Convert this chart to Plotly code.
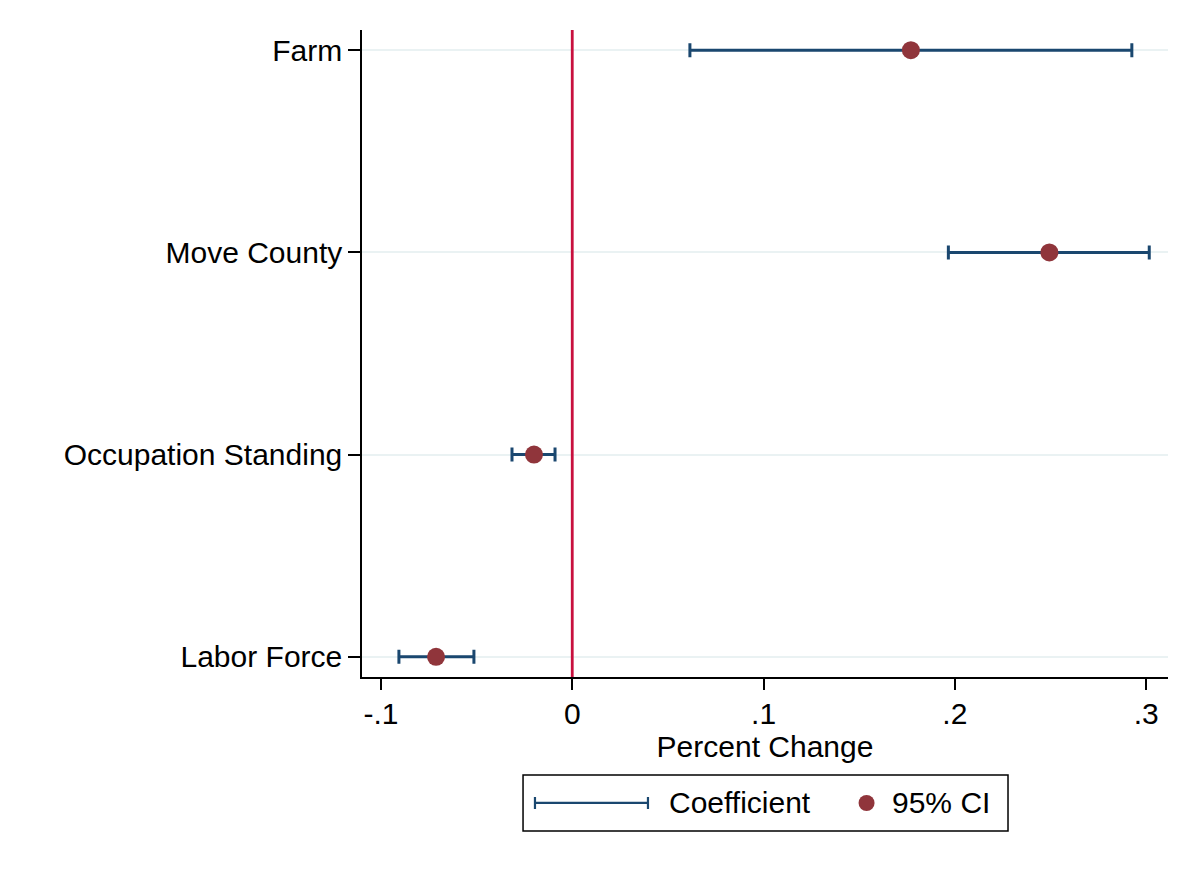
import plotly.graph_objects as go

categories = ["Labor Force", "Occupation Standing", "Move County", "Farm"]
coef = [-0.0712, -0.0200, 0.2494, 0.1770]
ci_low = [-0.0906, -0.0315, 0.1966, 0.0615]
ci_high = [-0.0514, -0.0090, 0.3016, 0.2925]
x_ticks = [-0.1, 0, 0.1, 0.2, 0.3]
x_tick_labels = ["-.1", "0", ".1", ".2", ".3"]

NAVY = "#1a476f"
MAROON = "#90353b"
RED = "#c8103e"
FONT = "Liberation Sans, Arial, Helvetica, sans-serif"

fig = go.Figure()
fig.add_trace(go.Scatter(
    x=coef, y=categories, mode="markers",
    marker=dict(size=1, opacity=0),
    error_x=dict(type="data", symmetric=False,
                 array=[h - c for h, c in zip(ci_high, coef)],
                 arrayminus=[c - l for c, l in zip(coef, ci_low)],
                 color=NAVY, thickness=3, width=7),
    showlegend=False, hoverinfo="skip"))
fig.add_trace(go.Scatter(
    x=coef, y=categories, mode="markers",
    marker=dict(size=18, color=MAROON),
    showlegend=False))

fig.add_vline(x=0, line=dict(color=RED, width=2.8), layer="above")

# manual legend
shapes = [
    dict(type="rect", xref="paper", yref="paper", x0=0.1998, x1=0.8015, y0=-0.238, y1=-0.1515,
         line=dict(color="black", width=1.5), fillcolor="white"),
    dict(type="line", xref="paper", yref="paper", x0=0.2146, x1=0.3548, y0=-0.1947, y1=-0.1947,
         line=dict(color=NAVY, width=2.2)),
    dict(type="line", xref="paper", yref="paper", x0=0.2146, x1=0.2146, y0=-0.1855, y1=-0.2040,
         line=dict(color=NAVY, width=2.2)),
    dict(type="line", xref="paper", yref="paper", x0=0.3548, x1=0.3548, y0=-0.1855, y1=-0.2040,
         line=dict(color=NAVY, width=2.2)),
    dict(type="circle", xref="paper", yref="paper", xsizemode="pixel", ysizemode="pixel",
         xanchor=0.626, yanchor=-0.1947, x0=-8, x1=8, y0=-8, y1=8,
         fillcolor=MAROON, line=dict(width=0)),
]
for s in shapes:
    fig.add_shape(**s)

fig.add_annotation(x=0.3784, y=-0.1947, xref="paper", yref="paper", text="Coefficient",
                   showarrow=False, xanchor="left", yanchor="middle",
                   font=dict(size=30, color="black", family=FONT))
fig.add_annotation(x=0.655, y=-0.1947, xref="paper", yref="paper", text="95% CI",
                   showarrow=False, xanchor="left", yanchor="middle",
                   font=dict(size=30, color="black", family=FONT))

fig.update_layout(
    width=1200, height=873,
    margin=dict(l=354, r=40, t=22, b=204),
    paper_bgcolor="white", plot_bgcolor="white",
    font=dict(family=FONT, size=30, color="black"),
    xaxis=dict(range=[-0.1099, 0.3114], tickvals=x_ticks, ticktext=x_tick_labels,
               showgrid=False, zeroline=False, showline=True, linecolor="black", linewidth=1.5,
               ticks="outside", ticklen=11, tickwidth=1.5, tickcolor="black",
               tickfont=dict(size=30), ticklabelstandoff=-2,
               title=dict(text="Percent Change", font=dict(size=30), standoff=2)),
    yaxis=dict(type="category", categoryarray=categories, range=[-0.1, 3.1],
               showgrid=True, gridcolor="#eaf2f3", gridwidth=2,
               zeroline=False, showline=True, linecolor="black", linewidth=1.5,
               ticks="outside", ticklen=12, tickwidth=1.5, tickcolor="black",
               tickfont=dict(size=30), ticklabelstandoff=0),
)

fig.write_html("out.html")
